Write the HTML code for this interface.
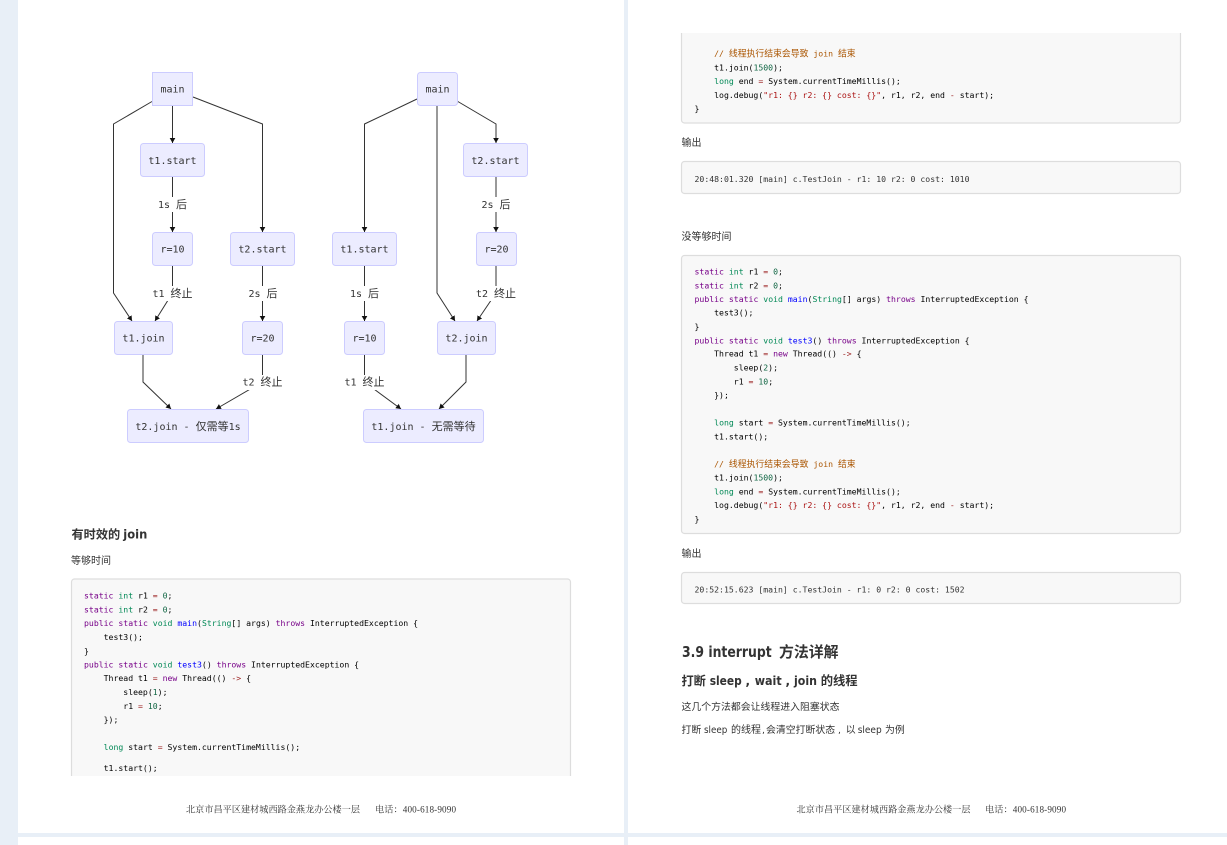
<!DOCTYPE html>
<html><head><meta charset="utf-8">
<style>
html,body{margin:0;padding:0;width:1227px;height:845px;overflow:hidden;background:#e8eff7}
svg{display:block;position:absolute;left:0;top:0}
.n{fill:#ececff;stroke:#ccf;stroke-width:1}
.e{fill:none;stroke:#333;stroke-width:1;marker-end:url(#a)}
.nt{font:10px "DejaVu Sans Mono","Noto Sans CJK SC",monospace;fill:#333;text-anchor:middle;white-space:pre}
.cj{font-family:"Noto Sans CJK SC",sans-serif;font-size:11px}
.lb{fill:#fff}
.b{fill:#f8f8f8;stroke:#ddd;stroke-width:1.2}
.c{font:8.17px "DejaVu Sans Mono","Noto Sans CJK SC",monospace;fill:#000;white-space:pre}
.o{fill:#333}
.k{fill:#708}.t{fill:#085}.m{fill:#164}.d{fill:#00f}.s{fill:#a11}.p{fill:#981a1a}.r{fill:#a50}
.z{font-size:8.85px;font-family:"Noto Sans CJK SC",sans-serif}
.h{font-family:"Noto Sans CJK SC",sans-serif;fill:#333;white-space:pre}
.l{font-family:"DejaVu Sans",sans-serif;fill:#333;white-space:pre}
.bd{font-weight:700}
.ft{font-family:"Liberation Serif","Noto Serif CJK SC",serif;font-size:9.15px;fill:#333;white-space:pre}
</style></head><body>
<svg width="1227" height="845" viewBox="0 0 1227 845" xmlns="http://www.w3.org/2000/svg">
<defs><marker id="a" markerUnits="userSpaceOnUse" markerWidth="6" markerHeight="6" refX="5" refY="3" orient="auto"><path d="M0 0.2L5 3L0 5.8z" fill="#111"/></marker></defs>

<rect x="18" y="0" width="606" height="833" fill="#fff"/>
<rect x="628" y="0" width="599" height="833" fill="#fff"/>
<rect x="18" y="837" width="606" height="8" fill="#fff"/>
<rect x="628" y="837" width="599" height="8" fill="#fff"/>

<!-- left diagram edges -->
<path class="e" d="M172.5 106V143"/>
<path class="e" d="M152 101.5L113.5 124V293L132 321"/>
<path class="e" d="M193 97L262.5 124V232"/>
<path class="e" d="M172.5 177V232"/>
<path class="e" d="M172.5 266V293L155 321"/>
<path class="e" d="M262.5 266V321"/>
<path class="e" d="M143 355V382L171 409"/>
<path class="e" d="M262.5 355V382L216 409"/>
<!-- right diagram edges -->
<path class="e" d="M417 99L364.5 124V232"/>
<path class="e" d="M437 106V293L455 321"/>
<path class="e" d="M457 101L496 124V143"/>
<path class="e" d="M496 177V232"/>
<path class="e" d="M496 266V293L477 321"/>
<path class="e" d="M364.5 266V321"/>
<path class="e" d="M364.5 355V382L401 409"/>
<path class="e" d="M466 355V382L439 409"/>

<!-- edge label backgrounds -->
<rect class="lb" x="157" y="197" width="31" height="15"/>
<rect class="lb" x="152" y="286" width="42" height="15"/>
<rect class="lb" x="247" y="286" width="32" height="15"/>
<rect class="lb" x="242" y="375" width="42" height="15"/>
<rect class="lb" x="481" y="197" width="31" height="15"/>
<rect class="lb" x="475" y="286" width="42" height="15"/>
<rect class="lb" x="349" y="286" width="31" height="15"/>
<rect class="lb" x="344" y="375" width="42" height="15"/>

<!-- nodes -->
<rect class="n" x="152.5" y="72.5" width="40" height="33"/>
<rect class="n" x="140.5" y="143.5" width="64" height="33" rx="3"/>
<rect class="n" x="152.5" y="232.5" width="40" height="33" rx="3"/>
<rect class="n" x="230.5" y="232.5" width="64" height="33" rx="3"/>
<rect class="n" x="114.5" y="321.5" width="58" height="33" rx="3"/>
<rect class="n" x="242.5" y="321.5" width="40" height="33" rx="3"/>
<rect class="n" x="127.5" y="409.5" width="121" height="33" rx="3"/>
<rect class="n" x="417.5" y="72.5" width="40" height="33" rx="3"/>
<rect class="n" x="463.5" y="143.5" width="64" height="33" rx="3"/>
<rect class="n" x="332.5" y="232.5" width="64" height="33" rx="3"/>
<rect class="n" x="476.5" y="232.5" width="40" height="33" rx="3"/>
<rect class="n" x="344.5" y="321.5" width="40" height="33" rx="3"/>
<rect class="n" x="437.5" y="321.5" width="58" height="33" rx="3"/>
<rect class="n" x="363.5" y="409.5" width="120" height="33" rx="3"/>

<text class="nt" x="172.5" y="92.5">main</text>
<text class="nt" x="172.5" y="164">t1.start</text>
<text class="nt" x="172.5" y="252.5">r=10</text>
<text class="nt" x="262.5" y="252.5">t2.start</text>
<text class="nt" x="143.5" y="341.5">t1.join</text>
<text class="nt" x="262.5" y="341.5">r=20</text>
<text class="nt" x="188" y="430">t2.join - <tspan class="cj">仅需等</tspan>1s</text>
<text class="nt" x="437.5" y="92.5">main</text>
<text class="nt" x="495.5" y="164">t2.start</text>
<text class="nt" x="364.5" y="252.5">t1.start</text>
<text class="nt" x="496.5" y="252.5">r=20</text>
<text class="nt" x="364.5" y="341.5">r=10</text>
<text class="nt" x="466.5" y="341.5">t2.join</text>
<text class="nt" x="423.5" y="430">t1.join - <tspan class="cj">无需等待</tspan></text>

<text class="nt" x="172.5" y="208">1s <tspan class="cj">后</tspan></text>
<text class="nt" x="172.5" y="297">t1 <tspan class="cj">终止</tspan></text>
<text class="nt" x="263" y="297">2s <tspan class="cj">后</tspan></text>
<text class="nt" x="262.5" y="385.5">t2 <tspan class="cj">终止</tspan></text>
<text class="nt" x="496" y="208">2s <tspan class="cj">后</tspan></text>
<text class="nt" x="496" y="297">t2 <tspan class="cj">终止</tspan></text>
<text class="nt" x="364.5" y="297">1s <tspan class="cj">后</tspan></text>
<text class="nt" x="364.5" y="385.5">t1 <tspan class="cj">终止</tspan></text>

<!-- left text -->
<text class="h bd" x="71.5" y="538.5" font-size="12.2">有时效的</text>
<text class="l bd" x="123.3" y="538.5" font-size="12" textLength="24" lengthAdjust="spacingAndGlyphs">join</text>
<text class="h" x="71" y="564" font-size="10">等够时间</text>

<!-- left code -->
<path class="b" d="M71.5 776V582a3 3 0 0 1 3-3H567.5a3 3 0 0 1 3 3V776"/>
<text class="c" x="84" y="598.5"><tspan class="k">static</tspan> <tspan class="t">int</tspan> r1 <tspan class="p">=</tspan> <tspan class="m">0</tspan>;</text>
<text class="c" x="84" y="612.5"><tspan class="k">static</tspan> <tspan class="t">int</tspan> r2 <tspan class="p">=</tspan> <tspan class="m">0</tspan>;</text>
<text class="c" x="84" y="626"><tspan class="k">public</tspan> <tspan class="k">static</tspan> <tspan class="t">void</tspan> <tspan class="d">main</tspan>(<tspan class="t">String</tspan>[] args) <tspan class="k">throws</tspan> InterruptedException {</text>
<text class="c" x="84" y="640">    test3();</text>
<text class="c" x="84" y="654">}</text>
<text class="c" x="84" y="667.5"><tspan class="k">public</tspan> <tspan class="k">static</tspan> <tspan class="t">void</tspan> <tspan class="d">test3</tspan>() <tspan class="k">throws</tspan> InterruptedException {</text>
<text class="c" x="84" y="681">    Thread t1 <tspan class="p">=</tspan> <tspan class="k">new</tspan> Thread(() <tspan class="p">-&gt;</tspan> {</text>
<text class="c" x="84" y="695">        sleep(<tspan class="m">1</tspan>);</text>
<text class="c" x="84" y="709">        r1 <tspan class="p">=</tspan> <tspan class="m">10</tspan>;</text>
<text class="c" x="84" y="722.5">    });</text>
<text class="c" x="84" y="750">    <tspan class="t">long</tspan> start <tspan class="p">=</tspan> System.currentTimeMillis();</text>
<text class="c" x="84" y="771">    t1.start();</text>

<text class="ft" x="186" y="812.5" textLength="174">北京市昌平区建材城西路金燕龙办公楼一层</text>
<text class="ft" x="375" y="812.5" textLength="81">电话：400-618-9090</text>

<!-- right top code -->
<path class="b" d="M681.5 33V120a3 3 0 0 0 3 3H1177.5a3 3 0 0 0 3-3V33"/>
<text class="c" x="694.5" y="56.5"><tspan class="r">    // <tspan class="z">线程执行结束会导致</tspan> join <tspan class="z">结束</tspan></tspan></text>
<text class="c" x="694.5" y="70.5">    t1.join(<tspan class="m">1500</tspan>);</text>
<text class="c" x="694.5" y="84">    <tspan class="t">long</tspan> end <tspan class="p">=</tspan> System.currentTimeMillis();</text>
<text class="c" x="694.5" y="98">    log.debug(<tspan class="s">"r1: {} r2: {} cost: {}"</tspan>, r1, r2, end <tspan class="p">-</tspan> start);</text>
<text class="c" x="694.5" y="111.5">}</text>

<text class="h" x="681.5" y="146" font-size="10">输出</text>

<rect class="b" x="681.5" y="161.5" width="499" height="32" rx="3"/>
<text class="c o" x="694.5" y="182">20:48:01.320 [main] c.TestJoin - r1: 10 r2: 0 cost: 1010</text>

<text class="h" x="681.5" y="240" font-size="10">没等够时间</text>

<rect class="b" x="681.5" y="255.5" width="499" height="278" rx="3"/>
<text class="c" x="694.5" y="274.5"><tspan class="k">static</tspan> <tspan class="t">int</tspan> r1 <tspan class="p">=</tspan> <tspan class="m">0</tspan>;</text>
<text class="c" x="694.5" y="288.5"><tspan class="k">static</tspan> <tspan class="t">int</tspan> r2 <tspan class="p">=</tspan> <tspan class="m">0</tspan>;</text>
<text class="c" x="694.5" y="302"><tspan class="k">public</tspan> <tspan class="k">static</tspan> <tspan class="t">void</tspan> <tspan class="d">main</tspan>(<tspan class="t">String</tspan>[] args) <tspan class="k">throws</tspan> InterruptedException {</text>
<text class="c" x="694.5" y="315.5">    test3();</text>
<text class="c" x="694.5" y="329.5">}</text>
<text class="c" x="694.5" y="343.5"><tspan class="k">public</tspan> <tspan class="k">static</tspan> <tspan class="t">void</tspan> <tspan class="d">test3</tspan>() <tspan class="k">throws</tspan> InterruptedException {</text>
<text class="c" x="694.5" y="356.5">    Thread t1 <tspan class="p">=</tspan> <tspan class="k">new</tspan> Thread(() <tspan class="p">-&gt;</tspan> {</text>
<text class="c" x="694.5" y="370.5">        sleep(<tspan class="m">2</tspan>);</text>
<text class="c" x="694.5" y="384.5">        r1 <tspan class="p">=</tspan> <tspan class="m">10</tspan>;</text>
<text class="c" x="694.5" y="398">    });</text>
<text class="c" x="694.5" y="425.5">    <tspan class="t">long</tspan> start <tspan class="p">=</tspan> System.currentTimeMillis();</text>
<text class="c" x="694.5" y="439.5">    t1.start();</text>
<text class="c" x="694.5" y="467"><tspan class="r">    // <tspan class="z">线程执行结束会导致</tspan> join <tspan class="z">结束</tspan></tspan></text>
<text class="c" x="694.5" y="480.5">    t1.join(<tspan class="m">1500</tspan>);</text>
<text class="c" x="694.5" y="494.5">    <tspan class="t">long</tspan> end <tspan class="p">=</tspan> System.currentTimeMillis();</text>
<text class="c" x="694.5" y="508">    log.debug(<tspan class="s">"r1: {} r2: {} cost: {}"</tspan>, r1, r2, end <tspan class="p">-</tspan> start);</text>
<text class="c" x="694.5" y="522">}</text>

<text class="h" x="681.5" y="546" font-size="0"></text>
<text class="h" x="681.5" y="557" font-size="10">输出</text>

<rect class="b" x="681.5" y="572.5" width="499" height="31" rx="3"/>
<text class="c o" x="694.5" y="592.5">20:52:15.623 [main] c.TestJoin - r1: 0 r2: 0 cost: 1502</text>

<text class="l bd" x="682" y="657" font-size="14.8" textLength="89.7" lengthAdjust="spacingAndGlyphs">3.9 interrupt</text>
<text class="h bd" x="779" y="657" font-size="14.9">方法详解</text>

<text class="h bd" x="681.5" y="685" font-size="12.2">打断</text>
<text class="l bd" x="709.7" y="685" font-size="12" textLength="32" lengthAdjust="spacingAndGlyphs">sleep</text>
<text class="l bd" x="745.5" y="685" font-size="12">,</text>
<text class="l bd" x="754.7" y="685" font-size="12" textLength="27" lengthAdjust="spacingAndGlyphs">wait</text>
<text class="l bd" x="785.5" y="685" font-size="12">,</text>
<text class="l bd" x="794" y="685" font-size="12" textLength="23" lengthAdjust="spacingAndGlyphs">join</text>
<text class="h bd" x="820.7" y="685" font-size="12.3">的线程</text>

<text class="h" x="681.5" y="710" font-size="9.9">这几个方法都会让线程进入阻塞状态</text>

<text class="h" x="681.5" y="733" font-size="9.9">打断</text>
<text class="l" x="704" y="733" font-size="10" textLength="23.3" lengthAdjust="spacingAndGlyphs">sleep</text>
<text class="h" x="731" y="733" font-size="10">的线程</text>
<text class="l" x="762" y="733" font-size="9.2">,</text>
<text class="h" x="766" y="733" font-size="9.9">会清空打断状态</text>
<text class="l" x="838" y="733" font-size="9.2">,</text>
<text class="h" x="845.7" y="733" font-size="9.9">以</text>
<text class="l" x="857.7" y="733" font-size="10" textLength="24" lengthAdjust="spacingAndGlyphs">sleep</text>
<text class="h" x="885" y="733" font-size="9.9">为例</text>

<text class="ft" x="796.5" y="812.5" textLength="174">北京市昌平区建材城西路金燕龙办公楼一层</text>
<text class="ft" x="985" y="812.5" textLength="81">电话：400-618-9090</text>
</svg>
</body></html>
